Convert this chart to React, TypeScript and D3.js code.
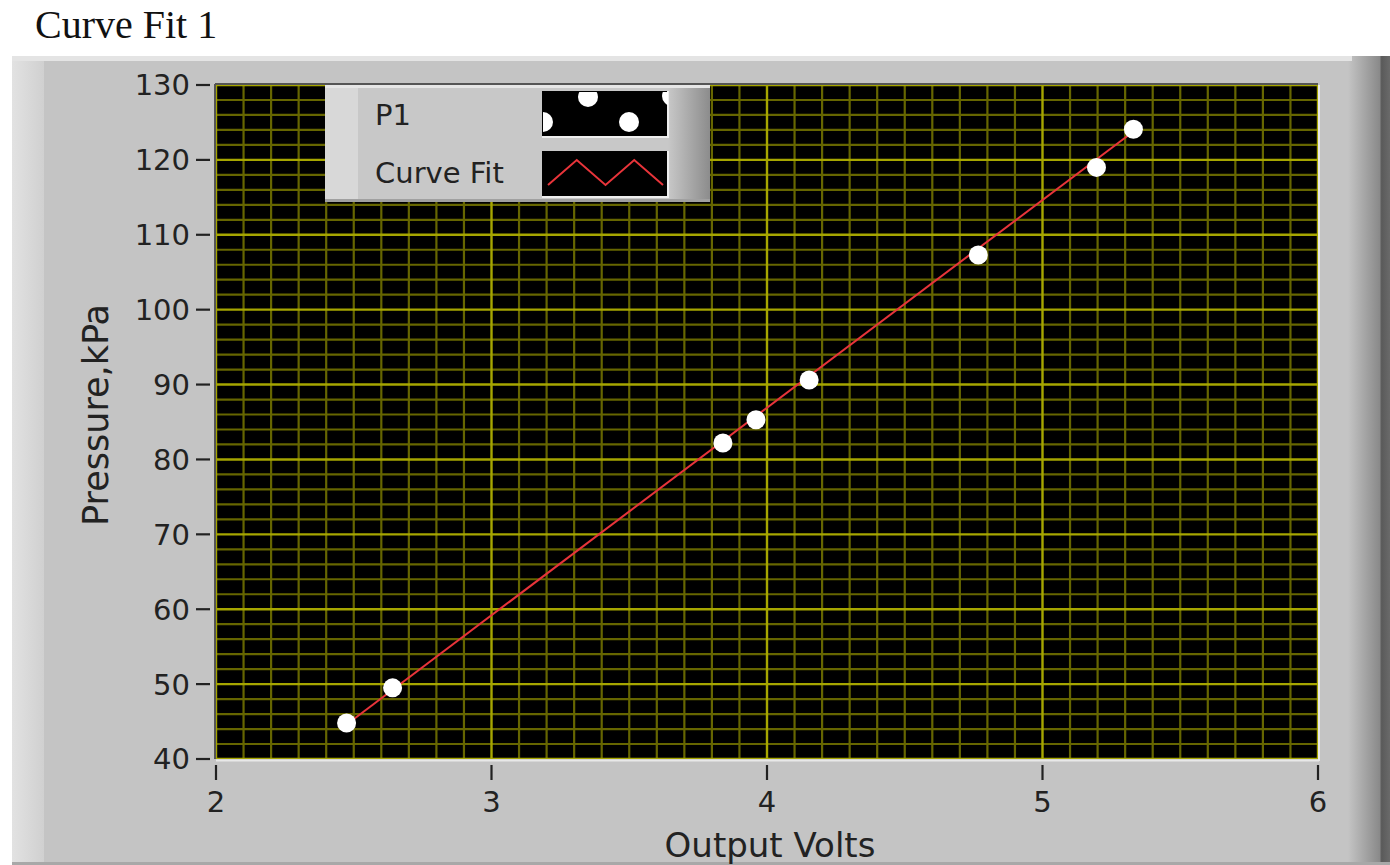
import React from "react";
import * as d3 from "d3";

const voltsP1 = [2.474, 2.641, 3.84, 3.96, 4.153, 4.767, 5.196, 5.33];
const pressureP1 = [44.8, 49.5, 82.2, 85.3, 90.6, 107.3, 119.0, 124.1];
const fitVolts = [2.474, 5.33];
const fitPressure = [44.6, 123.8];
const xTicks = [2, 3, 4, 5, 6];
const yTicks = [40, 50, 60, 70, 80, 90, 100, 110, 120, 130];
const legendLabels = ["P1", "Curve Fit"];

const W = 1390;
const H = 865;
const L = 216, R = 1318, T = 85, B = 759;

export default function App() {
  const x = d3.scaleLinear().domain([2, 6]).range([L, R]);
  const y = d3.scaleLinear().domain([40, 130]).range([B, T]);
  const minorX = d3.range(20, 61).map((v) => v / 10).filter((v) => !xTicks.includes(v));
  const minorY = d3.range(40, 131, 2).filter((v) => !yTicks.includes(v));
  const line = d3.line<number>().x((_, i) => x(fitVolts[i])).y((d) => y(d));
  const sans = "'DejaVu Sans', Verdana, sans-serif";

  // legend
  const lgX = 325, lgY = 85, lgW = 385, lgH = 117;
  const swX = 543, swW = 125, swH = 45;
  const sw1Y = 92, sw2Y = 152;
  const zig = [0, 1, 0, 1, 0];
  const zigX = d3.scaleLinear().domain([0, 4]).range([swX + 5, swX + swW - 5]);
  const zigY = d3.scaleLinear().domain([0, 1]).range([sw2Y + 33, sw2Y + 8]);
  const zigLine = d3.line<number>().x((_, i) => zigX(i)).y((d) => zigY(d));

  return (
    <svg width={W} height={H} style={{ position: "absolute", left: 0, top: 0, background: "#fff" }}>
      <defs>
        <linearGradient id="rgrad" x1="0" x2="1" y1="0" y2="0">
          <stop offset="0" stopColor="#c4c4c4" />
          <stop offset="0.75" stopColor="#8a8a8a" />
          <stop offset="0.8" stopColor="#5a5a5a" />
          <stop offset="1" stopColor="#6a6a6a" />
        </linearGradient>
        <linearGradient id="lgrad" x1="0" x2="1" y1="0" y2="0">
          <stop offset="0" stopColor="#e2e2e2" />
          <stop offset="1" stopColor="#d0d0d0" />
        </linearGradient>
        <linearGradient id="legR" x1="0" x2="1" y1="0" y2="0">
          <stop offset="0" stopColor="#c8c8c8" />
          <stop offset="1" stopColor="#8c8c8c" />
        </linearGradient>
        <clipPath id="plotClip">
          <rect x={L} y={T} width={R - L} height={B - T} />
        </clipPath>
        <clipPath id="sw1Clip">
          <rect x={swX} y={sw1Y} width={swW} height={swH} />
        </clipPath>
      </defs>

      <text x={35} y={38} fontFamily="'Liberation Serif', 'Times New Roman', serif" fontSize={40} fill="#111">
        Curve Fit 1
      </text>

      {/* panel */}
      <rect x={12} y={56} width={W - 12} height={H - 56} fill="#c4c4c4" />
      <rect x={12} y={56} width={32} height={H - 56} fill="url(#lgrad)" />
      <rect x={1348} y={56} width={42} height={H - 56} fill="url(#rgrad)" />
      <rect x={12} y={56} width={1340} height={5} fill="#e4e4e4" />
      <rect x={12} y={H - 3} width={W - 12} height={3} fill="#a8a8a8" />

      {/* plot */}
      <rect x={L} y={T} width={R - L} height={B - T} fill="#000" />
      <g clipPath="url(#plotClip)">
        {minorX.map((v) => (
          <line key={"mx" + v} x1={x(v)} x2={x(v)} y1={T} y2={B} stroke="#666600" strokeWidth={2.2} />
        ))}
        {minorY.map((v) => (
          <line key={"my" + v} x1={L} x2={R} y1={y(v)} y2={y(v)} stroke="#666600" strokeWidth={2.2} />
        ))}
        {xTicks.map((v) => (
          <line key={"Mx" + v} x1={x(v)} x2={x(v)} y1={T} y2={B} stroke="#a6a600" strokeWidth={2.4} />
        ))}
        {yTicks.map((v) => (
          <line key={"My" + v} x1={L} x2={R} y1={y(v)} y2={y(v)} stroke="#a6a600" strokeWidth={2.4} />
        ))}
        <path d={line(fitPressure) || ""} fill="none" stroke="#e8343a" strokeWidth={2} />
        {voltsP1.map((v, i) => (
          <circle key={"p" + i} cx={x(v)} cy={y(pressureP1[i])} r={9.5} fill="#fff" />
        ))}
      </g>
      <line x1={L - 1} x2={L - 1} y1={T - 1} y2={B} stroke="#555" strokeWidth={2} />
      <line x1={L - 1} x2={R} y1={T - 1} y2={T - 1} stroke="#555" strokeWidth={2} />
      <line x1={L} x2={R + 1} y1={B + 1.5} y2={B + 1.5} stroke="#e8e8e8" strokeWidth={2} />
      <line x1={R + 1} x2={R + 1} y1={T} y2={B + 2} stroke="#e8e8e8" strokeWidth={2} />

      {/* y axis */}
      {yTicks.map((v) => (
        <g key={"yt" + v}>
          <line x1={196} x2={210} y1={y(v)} y2={y(v)} stroke="#222" strokeWidth={2.2} />
          <text x={190} y={y(v)} dy="0.36em" textAnchor="end" fontFamily={sans} fontSize={29} fill="#222">
            {v}
          </text>
        </g>
      ))}
      {/* x axis */}
      {xTicks.map((v) => (
        <g key={"xt" + v}>
          <line x1={x(v)} x2={x(v)} y1={765} y2={780} stroke="#222" strokeWidth={2.2} />
          <text x={x(v)} y={812} textAnchor="middle" fontFamily={sans} fontSize={29} fill="#222">
            {v}
          </text>
        </g>
      ))}
      <text x={770} y={857} textAnchor="middle" fontFamily={sans} fontSize={34} fill="#222">
        Output Volts
      </text>
      <text
        transform={`translate(108,415) rotate(-90)`}
        textAnchor="middle"
        fontFamily={sans}
        fontSize={35}
        fill="#222"
      >
        Pressure,kPa
      </text>

      {/* legend */}
      <rect x={lgX} y={lgY} width={lgW} height={lgH} fill="#c8c8c8" />
      <rect x={lgX} y={lgY} width={33} height={lgH} fill="#d8d8d8" />
      <rect x={lgX + lgW - 42} y={lgY} width={42} height={lgH} fill="url(#legR)" />
      <rect x={lgX} y={lgY} width={lgW} height={3} fill="#e6e6e6" />
      <rect x={lgX} y={lgY + lgH - 3} width={lgW} height={3} fill="#a0a0a0" />
      <text x={375} y={125} fontFamily={sans} fontSize={29} fill="#222">
        {legendLabels[0]}
      </text>
      <text x={375} y={183} fontFamily={sans} fontSize={29} fill="#222">
        {legendLabels[1]}
      </text>
      <rect x={swX - 1} y={sw1Y - 1} width={swW + 2} height={swH + 2} fill="#eee" />
      <rect x={swX - 1} y={sw1Y - 1} width={swW} height={swH} fill="#000" />
      <g clipPath="url(#sw1Clip)">
        <circle cx={543} cy={122} r={10} fill="#fff" />
        <circle cx={588} cy={97} r={10} fill="#fff" />
        <circle cx={629} cy={122} r={10} fill="#fff" />
        <circle cx={672} cy={96} r={10} fill="#fff" />
      </g>
      <rect x={swX - 1} y={sw2Y - 1} width={swW + 2} height={swH + 2} fill="#eee" />
      <rect x={swX - 1} y={sw2Y - 1} width={swW} height={swH} fill="#000" />
      <path d={zigLine(zig) || ""} fill="none" stroke="#e8343a" strokeWidth={2} />
    </svg>
  );
}
